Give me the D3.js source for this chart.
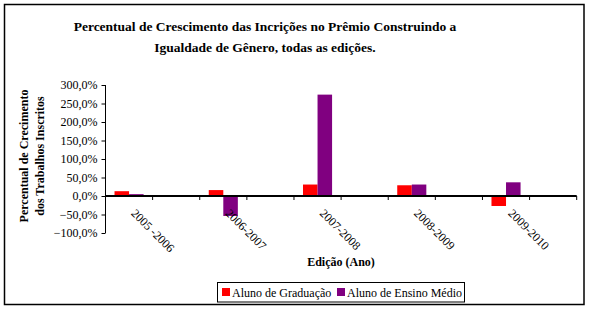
<!DOCTYPE html>
<html><head><meta charset="utf-8">
<script src="https://cdn.jsdelivr.net/npm/d3@7"></script>
<style>body{margin:0;background:#fff}svg{display:block}text{font-family:"Liberation Serif","Times New Roman",serif;fill:#000}</style>
</head><body>
<script>
const categories = ["2005 -2006", "2006-2007", "2007-2008", "2008-2009", "2009-2010"];
const seriesNames = ["Aluno de Graduação", "Aluno de Ensino Médio"];
const graduacao = [13, 16, 31, 29, -27];
const ensinoMedio = [5, -54, 274, 31, 37];
const yTicks = [300, 250, 200, 150, 100, 50, 0, -50, -100];
const colors = ["#FF0000", "#800080"];
const titleLines = ["Percentual de Crescimento das Incrições no Prêmio Construindo a", "Igualdade de Gênero, todas as edições."];
const yTitleLines = ["Percentual de Crecimento", "dos Trabalhos Inscritos"];
const xTitle = "Edição (Ano)";

const W = 590, H = 311;
const svg = d3.select("body").append("svg").attr("width", W).attr("height", H);
svg.append("rect").attr("x", 4.5).attr("y", 4.5).attr("width", 579.5).attr("height", 300)
  .attr("fill", "#fff").attr("stroke", "#000").attr("stroke-width", 1.5);

// title
svg.append("g").selectAll("text").data(titleLines).join("text")
  .attr("x", 265).attr("y", (d, i) => 31 + i * 21).attr("text-anchor", "middle")
  .attr("font-size", 13.5).attr("font-weight", "bold").text(d => d);

// slots: each category followed by a blank slot
const slots = [];
categories.forEach((c, i) => { slots.push("c" + i); slots.push("b" + i); });
const x = d3.scaleBand().domain(slots).range([105.5, 576.7]);
const y = d3.scaleLinear().domain([-100, 300]).range([233, 85]);
const inner = d3.scaleBand().domain([0, 1]).range([0, x.bandwidth()]).paddingInner(0).paddingOuter(0.62);

const data = categories.map((c, i) => ({ c, i, vals: [graduacao[i], ensinoMedio[i]] }));

// bars
const g = svg.append("g");
data.forEach(d => {
  d.vals.forEach((v, s) => {
    g.append("rect")
      .attr("x", x("c" + d.i) + inner(s))
      .attr("width", inner.bandwidth())
      .attr("y", y(Math.max(0, v)))
      .attr("height", Math.abs(y(v) - y(0)))
      .attr("fill", colors[s]);
  });
});

// y axis
const yAxis = d3.axisLeft(y).tickValues(yTicks).tickSize(4).tickPadding(4)
  .tickFormat(d => d3.format(".1f")(d).replace(".", ",") + "%");
const ya = svg.append("g").attr("transform", "translate(105.5,0)").call(yAxis);
ya.attr("font-family", null);
ya.select(".domain").attr("stroke", "#000").attr("d", "M0,85V233");
ya.selectAll("line").attr("stroke", "#000");
ya.selectAll("text").attr("font-family", "'Liberation Serif',serif").attr("font-size", 12).attr("fill", "#000");
ya.selectAll(".tick").filter(d => d === 0).select("line").attr("x1", 4);

// x axis line and ticks at band boundaries
const y0 = y(0);
const bounds = slots.map(s => x(s)).concat([x.range()[1]]);
svg.append("line").attr("x1", 105.5).attr("x2", 576.7).attr("y1", y0).attr("y2", y0)
  .attr("stroke", "#000").attr("stroke-width", 2);
svg.append("g").selectAll("line").data(bounds).join("line")
  .attr("x1", d => d).attr("x2", d => d).attr("y1", y0).attr("y2", y0 + 4)
  .attr("stroke", "#000");

// category labels
svg.append("g").selectAll("text").data(data).join("text")
  .attr("transform", d => `translate(${x("c" + d.i) + x.bandwidth() / 2 + 1.5},${y0 + 18}) rotate(45)`)
  .attr("font-size", 12).text(d => d.c);

// axis titles
svg.append("text").attr("x", 341).attr("y", 266).attr("text-anchor", "middle")
  .attr("font-size", 12).attr("font-weight", "bold").text(xTitle);
svg.append("g").selectAll("text").data(yTitleLines).join("text")
  .attr("transform", (d, i) => `translate(${28 + i * 16},156) rotate(-90)`)
  .attr("text-anchor", "middle").attr("font-size", 12).attr("font-weight", "bold").text(d => d);

// legend
const lg = svg.append("g");
lg.append("rect").attr("x", 217.5).attr("y", 282.5).attr("width", 247).attr("height", 19.5)
  .attr("fill", "#fff").attr("stroke", "#000").attr("stroke-width", 1);
const legX = [222, 337];
seriesNames.forEach((n, i) => {
  lg.append("rect").attr("x", legX[i]).attr("y", 288).attr("width", 8).attr("height", 8).attr("fill", colors[i]);
  lg.append("text").attr("x", legX[i] + 10).attr("y", 296.5).attr("font-size", 12).text(n);
});
</script>
</body></html>
